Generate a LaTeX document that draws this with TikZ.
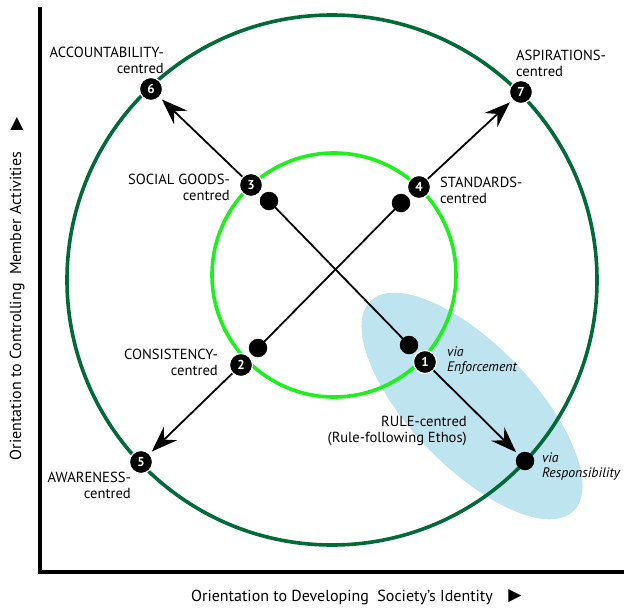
\documentclass[tikz,border=0pt]{standalone}
\usepackage{fontspec}
\setmainfont{PT Sans}
\newfontfamily\symfont{DejaVu Sans}
\usetikzlibrary{arrows.meta}
\definecolor{ringdark}{RGB}{0,106,56}
\definecolor{ringlight}{RGB}{30,240,30}
\definecolor{zoneblue}{RGB}{190,229,239}
\begin{document}
\begin{tikzpicture}[x=1pt,y=-1pt,
  numdot/.style={circle, fill=black, draw=white, line width=1.2pt,
    minimum size=23pt, inner sep=0pt, text=white,
    font=\bfseries\fontsize{13}{13}\selectfont},
  plaindot/.style={circle, fill=black, minimum size=18.5pt, inner sep=0pt},
  lab/.style={inner sep=0pt, font=\fontsize{14.6}{16}\selectfont},
  vialab/.style={inner sep=0pt, align=left, anchor=west,
    font=\itshape\fontsize{13.8}{15}\selectfont},
  axlab/.style={inner sep=0pt, font=\fontsize{16}{17}\selectfont},
  trilab/.style={inner sep=0pt, font=\symfont\fontsize{17}{17}\selectfont},
  arr/.style={line width=1.8pt, shorten >=3pt,
    -{Stealth[length=26pt,width=19pt,inset=9pt]}}]
\useasboundingbox (0,0) rectangle (632,613);
% responsibility zone
\fill[zoneblue, rotate around={-46:(472,406)}] (472,406) ellipse (146 and 61);
% outer and inner rings
\draw[ringdark, line width=3.6pt] (332,280) circle (265);
\draw[ringlight, line width=3.6pt] (334,275) circle (122);
% axes
\coordinate (ytop) at (40,7);
\coordinate (origin) at (40,572);
\coordinate (xend) at (624,572);
\draw[line width=3.8pt] (ytop) -- (origin) -- (xend);
% numbered positions
\node[numdot] (n6) at (151,89) {6};
\node[numdot] (n7) at (521,92) {7};
\node[numdot] (n3) at (251,185) {3};
\node[numdot] (n4) at (419,187) {4};
\node[numdot] (n2) at (241,365) {2};
\node[numdot] (n1) at (425,362) {1};
\node[numdot] (n5) at (141,462) {5};
% plain dots
\node[plaindot] (d3) at (269,201) {};
\node[plaindot] (d4) at (401,203) {};
\node[plaindot] (d2) at (258,348) {};
\node[plaindot] (d1) at (409,345) {};
\node[plaindot] (dr) at (525,461) {};
% crossing lines
\draw[line width=1.8pt] (d3.center) -- (d1.center);
\draw[line width=1.8pt] (d4.center) -- (d2.center);
% outward arrows
\draw[arr] (n3) -- (n6);
\draw[arr] (n4) -- (n7);
\draw[arr] (n2) -- (n5);
\draw[arr] (n1) -- (dr);
% labels
\node[lab, align=right, anchor=east] (accLab) at (164,60) {ACCOUNTABILITY-\\centred};
\node[lab, align=left, anchor=west] (aspLab) at (516,63) {ASPIRATIONS-\\centred};
\node[lab, align=right, anchor=east] (socLab) at (230,187) {SOCIAL GOODS-\\centred};
\node[lab, align=left, anchor=west] (stdLab) at (440,190) {STANDARDS-\\centred};
\node[lab, align=right, anchor=east] (conLab) at (218,362) {CONSISTENCY-\\centred};
\node[lab, align=right, anchor=east] (awaLab) at (131,485) {AWARENESS-\\centred};
\node[lab, align=right, anchor=east] (ruleLab) at (467,431) {RULE-centred\\(Rule-following Ethos)};
\node[vialab] (enfLab) at (447,361) {via\\Enforcement};
\node[vialab] (respLab) at (542,467) {via\\Responsibility};
% axis labels
\node[axlab] (xLab) at (342,597) {Orientation to Developing\ \ Society’s Identity};
\node[trilab] (xTri) at (515,596) {▶};
\node[axlab, rotate=90] (yLab) at (17,306) {Orientation to Controlling\ \ Member Activities};
\node[trilab, rotate=90] (yTri) at (17,124) {▶};
\end{tikzpicture}
\end{document}
